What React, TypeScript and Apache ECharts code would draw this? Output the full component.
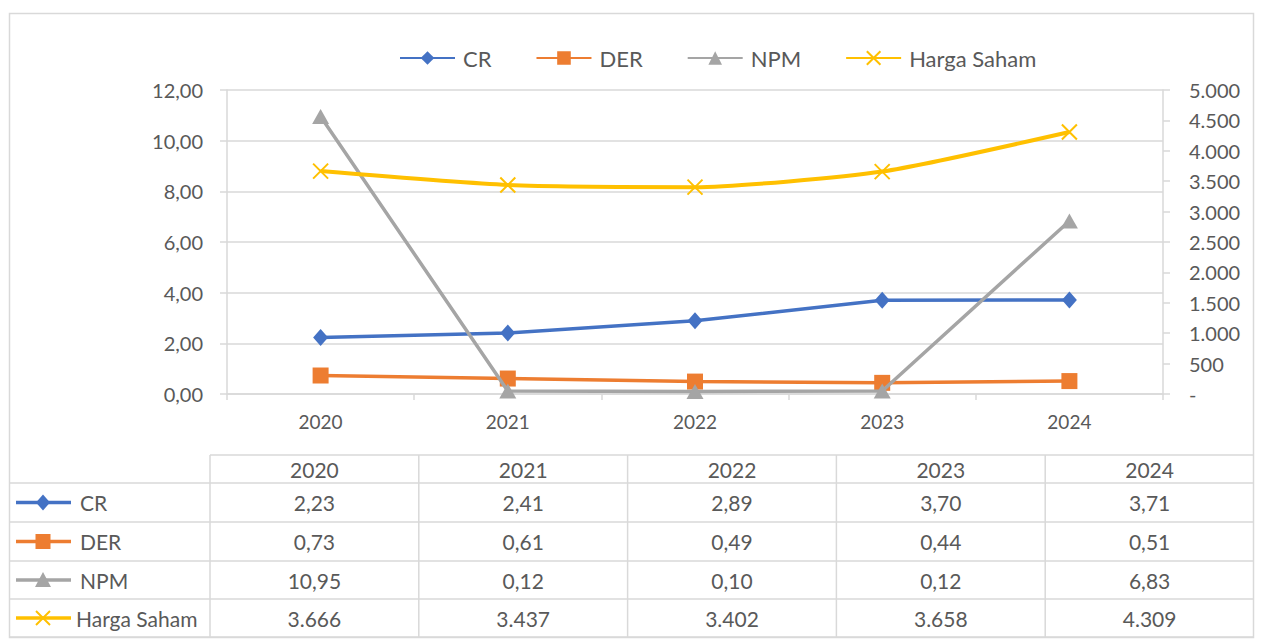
import React, { useEffect, useRef } from "react";
import * as echarts from "echarts";

const years = ["2020", "2021", "2022", "2023", "2024"];
const seriesNames = ["CR", "DER", "NPM", "Harga Saham"];
const crValues = [2.23, 2.41, 2.89, 3.7, 3.71];
const derValues = [0.73, 0.61, 0.49, 0.44, 0.51];
const npmValues = [10.95, 0.12, 0.1, 0.12, 6.83];
const hargaValues = [3666, 3437, 3402, 3658, 4309];
const leftAxis = { min: 0, max: 12, interval: 2 };
const rightAxis = { min: 0, max: 5000, interval: 500 };
const colors = ["#4472C4", "#ED7D31", "#A5A5A5", "#FFC000"];

const FONT = "Lato, 'Open Sans', sans-serif";
const TEXT = "#595959";
const GRIDC = "#D9D9D9";
const X_PATH = "path://M0,0L10,10M10,0L0,10";

const fmtDec = (v: number) => v.toFixed(2).replace(".", ",");
const fmtThousand = (v: number) =>
  v === 0 ? "-" : String(Math.round(v)).replace(/\B(?=(\d{3})+(?!\d))/g, ".");

function buildTable() {
  const els: any[] = [];
  const colX = [10, 210, 418.8, 627.6, 836.4, 1045.2, 1254];
  const rowY = [455, 483, 522, 561, 599, 637];
  const lineStyle = { stroke: GRIDC, lineWidth: 1.5 };
  const tf = `21px ${FONT}`;
  rowY.forEach((y, i) => {
    els.push({
      type: "line",
      shape: { x1: i === 0 ? colX[1] : colX[0], y1: y, x2: colX[6], y2: y },
      style: lineStyle,
      silent: true,
    });
  });
  colX.forEach((x, i) => {
    if (i === 0 || i === 6) return;
    els.push({
      type: "line",
      shape: { x1: x, y1: rowY[0], x2: x, y2: rowY[5] },
      style: lineStyle,
      silent: true,
    });
  });
  years.forEach((yr, i) => {
    els.push({
      type: "text",
      x: (colX[i + 1] + colX[i + 2]) / 2,
      y: (rowY[0] + rowY[1]) / 2,
      style: { text: yr, fill: TEXT, font: tf, align: "center", verticalAlign: "middle" },
      silent: true,
    });
  });
  const rows = [
    { name: seriesNames[0], vals: crValues.map(fmtDec) },
    { name: seriesNames[1], vals: derValues.map(fmtDec) },
    { name: seriesNames[2], vals: npmValues.map(fmtDec) },
    { name: seriesNames[3], vals: hargaValues.map(fmtThousand) },
  ];
  rows.forEach((r, ri) => {
    const cy = (rowY[ri + 1] + rowY[ri + 2]) / 2;
    const c = colors[ri];
    els.push({
      type: "line",
      shape: { x1: 16, y1: cy, x2: 71, y2: cy },
      style: { stroke: c, lineWidth: 3.5 },
      silent: true,
    });
    const mx = 43;
    if (ri === 0) {
      els.push({
        type: "polygon",
        shape: { points: [[mx, cy - 8], [mx + 7, cy], [mx, cy + 8], [mx - 7, cy]] },
        style: { fill: c },
        silent: true,
      });
    } else if (ri === 1) {
      els.push({
        type: "rect",
        shape: { x: mx - 7.5, y: cy - 7.5, width: 15, height: 15 },
        style: { fill: c },
        silent: true,
      });
    } else if (ri === 2) {
      els.push({
        type: "polygon",
        shape: { points: [[mx, cy - 8], [mx + 8, cy + 7], [mx - 8, cy + 7]] },
        style: { fill: c },
        silent: true,
      });
    } else {
      els.push({
        type: "line",
        shape: { x1: mx - 7, y1: cy - 7, x2: mx + 7, y2: cy + 7 },
        style: { stroke: c, lineWidth: 2 },
        silent: true,
      });
      els.push({
        type: "line",
        shape: { x1: mx + 7, y1: cy - 7, x2: mx - 7, y2: cy + 7 },
        style: { stroke: c, lineWidth: 2 },
        silent: true,
      });
    }
    els.push({
      type: "text",
      x: ri === 3 ? 76 : 80,
      y: cy,
      style: { text: r.name, fill: TEXT, font: tf, align: "left", verticalAlign: "middle" },
      silent: true,
    });
    r.vals.forEach((v, i) => {
      els.push({
        type: "text",
        x: (colX[i + 1] + colX[i + 2]) / 2,
        y: cy,
        style: { text: v, fill: TEXT, font: tf, align: "center", verticalAlign: "middle" },
        silent: true,
      });
    });
  });
  els.push({
    type: "rect",
    shape: { x: 9.5, y: 13.5, width: 1244, height: 624 },
    style: { fill: "none", stroke: GRIDC, lineWidth: 1.5 },
    silent: true,
  });
  return els;
}

export default function App() {
  const ref = useRef<HTMLDivElement>(null);
  useEffect(() => {
    document.body.style.margin = "0";
    if (!ref.current) return;
    const chart = echarts.init(ref.current, null, { renderer: "svg" });
    const axisLabel = { color: TEXT, fontFamily: FONT, fontSize: 20 };
    chart.setOption({
      animation: false,
      backgroundColor: "#ffffff",
      textStyle: { fontFamily: FONT },
      legend: {
        data: seriesNames,
        left: 394,
        top: 42,
        itemWidth: 55,
        itemHeight: 17,
        itemGap: 44,
        textStyle: { color: TEXT, fontSize: 22, fontFamily: FONT, padding: [0, 0, 0, 3] },
      },
      grid: { left: 227, right: 98, top: 90, bottom: 246, containLabel: false },
      xAxis: {
        type: "category",
        data: years,
        boundaryGap: true,
        axisLine: { show: true, lineStyle: { color: GRIDC, width: 1.5 } },
        axisTick: { show: true, alignWithLabel: false, length: 6, lineStyle: { color: GRIDC, width: 1.5 } },
        axisLabel: { color: TEXT, fontFamily: FONT, fontSize: 19, margin: 18 },
        splitLine: { show: false },
      },
      yAxis: [
        {
          type: "value",
          min: leftAxis.min,
          max: leftAxis.max,
          interval: leftAxis.interval,
          position: "left",
          axisLine: { show: true, lineStyle: { color: GRIDC, width: 1.5 } },
          axisTick: { show: true, length: 7, inside: false, lineStyle: { color: GRIDC, width: 1.5 } },
          axisLabel: { ...axisLabel, margin: 24, formatter: (v: number) => fmtDec(v) },
          splitLine: { show: true, lineStyle: { color: GRIDC, width: 1.5 } },
        },
        {
          type: "value",
          min: rightAxis.min,
          max: rightAxis.max,
          interval: rightAxis.interval,
          position: "right",
          axisLine: { show: true, lineStyle: { color: GRIDC, width: 1.5 } },
          axisTick: { show: true, length: 7, inside: false, lineStyle: { color: GRIDC, width: 1.5 } },
          axisLabel: { ...axisLabel, margin: 26, formatter: (v: number) => fmtThousand(v) },
          splitLine: { show: false },
        },
      ],
      series: [
        {
          name: seriesNames[0],
          type: "line",
          data: crValues,
          yAxisIndex: 0,
          symbol: "diamond",
          symbolSize: [15, 17],
          itemStyle: { color: colors[0] },
          lineStyle: { color: colors[0], width: 3.5 },
          z: 3,
        },
        {
          name: seriesNames[1],
          type: "line",
          data: derValues,
          yAxisIndex: 0,
          symbol: "rect",
          symbolSize: 16,
          itemStyle: { color: colors[1] },
          lineStyle: { color: colors[1], width: 3.5 },
          z: 4,
        },
        {
          name: seriesNames[2],
          type: "line",
          data: npmValues,
          yAxisIndex: 0,
          symbol: "triangle",
          symbolSize: [17, 15],
          itemStyle: { color: colors[2] },
          lineStyle: { color: colors[2], width: 3.5 },
          z: 5,
        },
        {
          name: seriesNames[3],
          type: "line",
          data: hargaValues,
          yAxisIndex: 1,
          symbol: X_PATH,
          symbolSize: 15,
          smooth: 0.2,
          itemStyle: { color: colors[3], borderColor: colors[3], borderWidth: 2 },
          lineStyle: { color: colors[3], width: 4 },
          z: 6,
        },
      ],
      graphic: buildTable(),
    });
    return () => chart.dispose();
  }, []);
  return (
    <div
      ref={ref}
      style={{ position: "absolute", left: 0, top: 0, width: 1261, height: 640, background: "#fff" }}
    />
  );
}
